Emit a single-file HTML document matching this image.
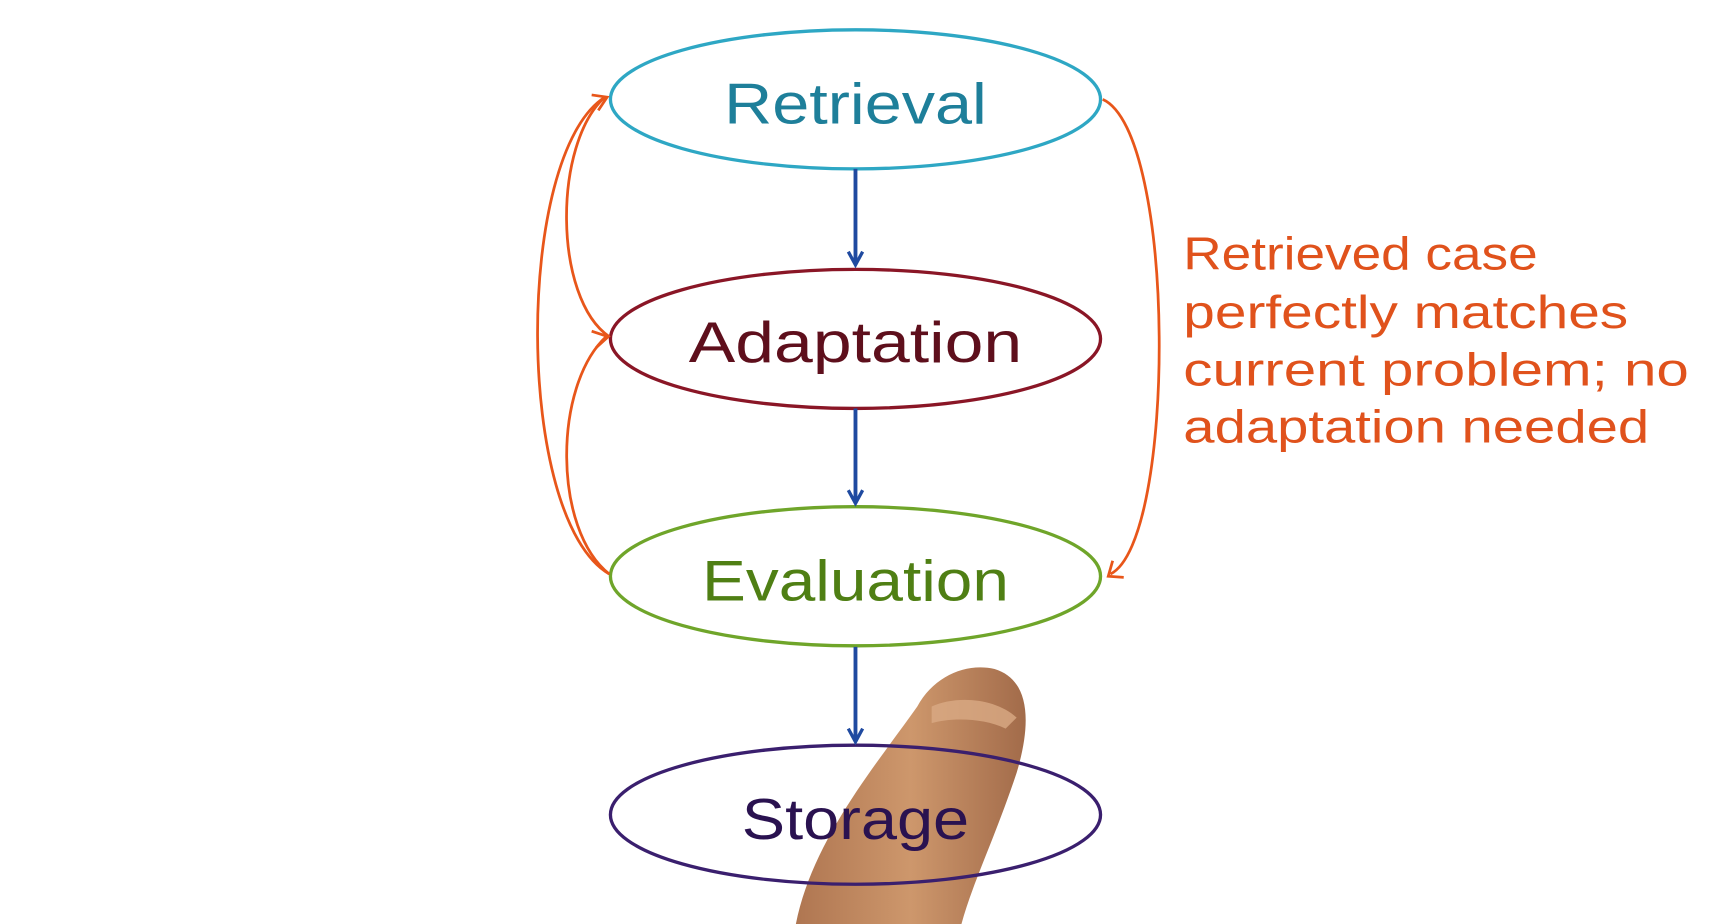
<!DOCTYPE html>
<html><head><meta charset="utf-8"><style>
html,body{margin:0;padding:0;background:#fff;width:1722px;height:924px;overflow:hidden}
svg{display:block}
text{font-family:"Liberation Sans Narrow","Liberation Sans",sans-serif}
</style></head><body>
<svg width="1722" height="924" viewBox="0 0 1560 837" preserveAspectRatio="none" xmlns="http://www.w3.org/2000/svg">
<defs>
<marker id="ab" markerWidth="16" markerHeight="16" refX="13" refY="8" orient="auto" markerUnits="userSpaceOnUse"><path d="M1,1.5 L13,8 L1,14.5" fill="none" stroke="#1f4aa0" stroke-width="3"/></marker>
<linearGradient id="fg" x1="0" x2="1"><stop offset="0" stop-color="#a86a42"/><stop offset="0.5" stop-color="#c98e5f"/><stop offset="1" stop-color="#9a5e3a"/></linearGradient>
</defs>
<g transform="translate(-4,0)">
<path d="M725,837 C740,760 800,690 835,640 C850,612 880,600 905,606 C935,615 940,650 925,700 C905,760 885,800 875,837 Z" fill="url(#fg)" opacity="0.92"/>
<path d="M848,640 C870,630 905,632 925,650 L915,660 C895,650 865,650 848,655 Z" fill="#d9aa85" opacity="0.8"/>
<ellipse cx="779" cy="90" rx="222" ry="63" fill="none" stroke="#2ea7c4" stroke-width="3"/>
<ellipse cx="779" cy="307" rx="222" ry="63" fill="none" stroke="#8a1626" stroke-width="3"/>
<ellipse cx="779" cy="522" rx="222" ry="63" fill="none" stroke="#6fa52a" stroke-width="3"/>
<ellipse cx="779" cy="738" rx="222" ry="63" fill="none" stroke="#3a1f6e" stroke-width="3"/>
<g stroke="#1f4aa0" stroke-width="3.5" fill="none">
<line x1="779" y1="153" x2="779" y2="240" marker-end="url(#ab)"/>
<line x1="779" y1="370" x2="779" y2="456" marker-end="url(#ab)"/>
<line x1="779" y1="586" x2="779" y2="672" marker-end="url(#ab)"/>
</g>
<g stroke="#e8561a" stroke-width="2.5" fill="none">
<path d="M556,520 C470,470 470,140 552,88"/>
<path d="M556,520 C505,480 505,350 553,305"/>
<path d="M556,305 C505,270 505,130 552,88"/>
<path d="M1003,90 C1070,120 1070,490 1010,520"/>
<path d="M540,86 L554,88 L546,100"/>
<path d="M540,300 L555,305 L544,315"/>
<path d="M1012,508 L1008,522 L1022,523"/>
</g>
<text x="779" y="112" text-anchor="middle" font-size="52" fill="#1e7f9a" textLength="238" lengthAdjust="spacingAndGlyphs">Retrieval</text>
<text x="779" y="328" text-anchor="middle" font-size="52" fill="#5e0f1c" textLength="302" lengthAdjust="spacingAndGlyphs">Adaptation</text>
<text x="779" y="544" text-anchor="middle" font-size="52" fill="#4f7f14" textLength="278" lengthAdjust="spacingAndGlyphs">Evaluation</text>
<text x="779" y="760" text-anchor="middle" font-size="52" fill="#2a1250" textLength="206" lengthAdjust="spacingAndGlyphs">Storage</text>
</g>
<g font-size="42" fill="#e0521c">
<text x="1072" y="244" textLength="321" lengthAdjust="spacingAndGlyphs">Retrieved case</text>
<text x="1072" y="297" textLength="403" lengthAdjust="spacingAndGlyphs">perfectly matches</text>
<text x="1072" y="349" textLength="458" lengthAdjust="spacingAndGlyphs">current problem; no</text>
<text x="1072" y="401" textLength="422" lengthAdjust="spacingAndGlyphs">adaptation needed</text>
</g>
</svg>
</body></html>
